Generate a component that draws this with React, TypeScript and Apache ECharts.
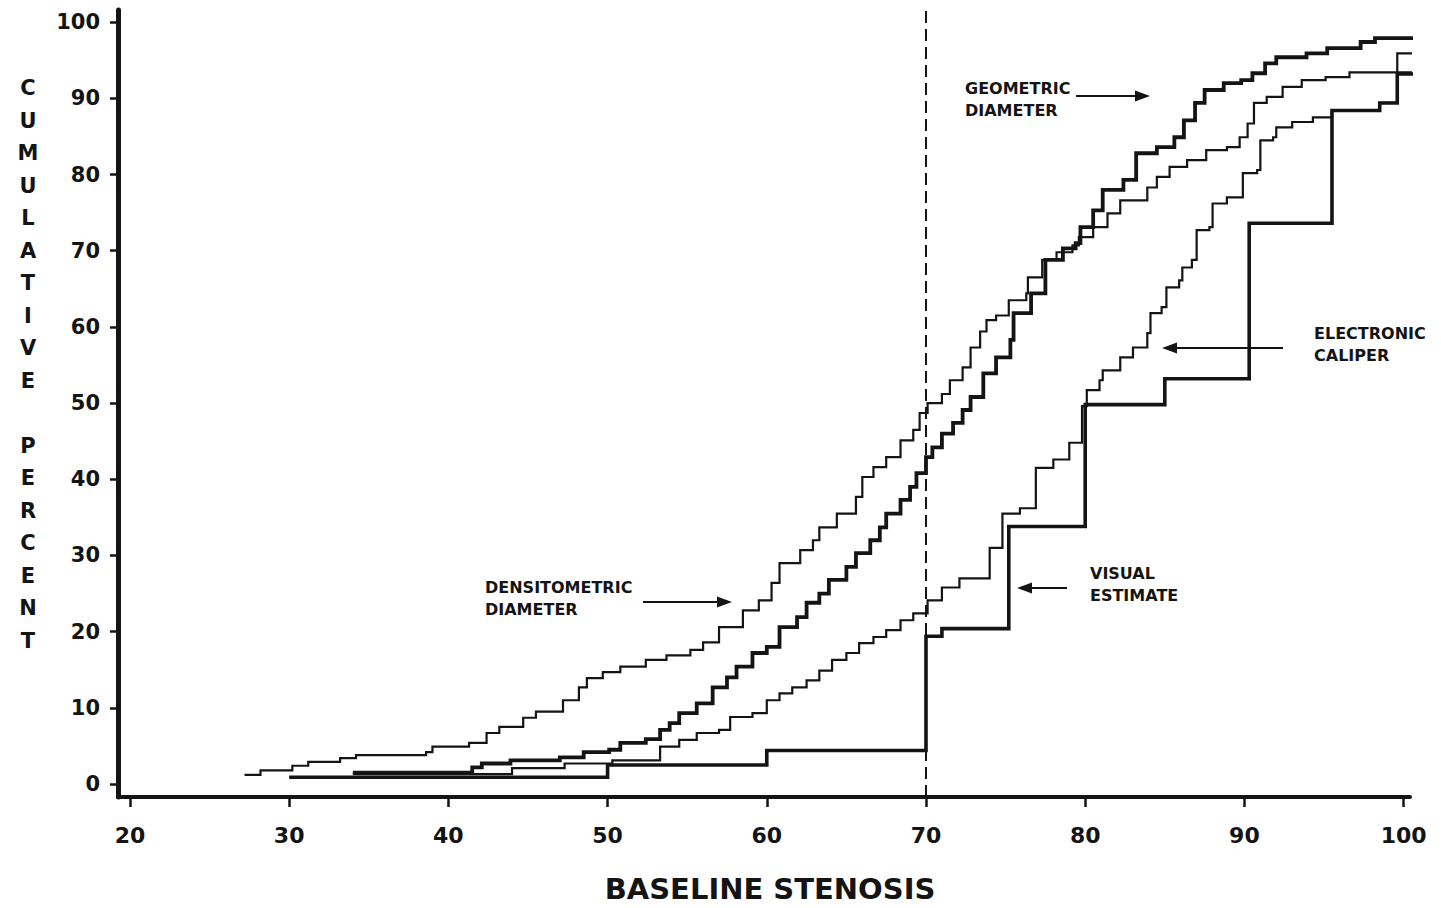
import React, { useEffect, useRef } from "react";
import * as echarts from "echarts";

const xTicks = [20, 30, 40, 50, 60, 70, 80, 90, 100];
const yTicks = [0, 10, 20, 30, 40, 50, 60, 70, 80, 90, 100];
const cutoff = 70;

const geometricDiameter = [
  [34.0, 1.5], [41.5, 2.2], [42.1, 2.7], [43.9, 3.1], [47.0, 3.5], [48.5, 4.2],
  [50.1, 4.5], [50.8, 5.4], [52.4, 5.9], [53.3, 7.1], [53.9, 8.0], [54.5, 9.3],
  [55.6, 10.6], [56.6, 12.7], [57.5, 14.0], [58.1, 15.4], [59.1, 17.2], [60.0, 18.0],
  [60.8, 20.6], [61.9, 21.9], [62.5, 23.8], [63.3, 25.0], [63.9, 26.8], [65.0, 28.5],
  [65.6, 30.3], [66.5, 32.0], [67.1, 33.7], [67.5, 35.5], [68.4, 37.3], [69.0, 39.0],
  [69.4, 40.8], [70.0, 42.9], [70.4, 44.2], [71.0, 46.0], [71.7, 47.4], [72.3, 49.1],
  [72.8, 50.8], [73.6, 53.9], [74.4, 56.0], [75.3, 58.3], [75.5, 61.8], [76.6, 64.4],
  [77.5, 68.8], [78.6, 70.3], [79.4, 71.0], [79.7, 73.1], [80.5, 75.3], [81.1, 78.0],
  [82.4, 79.3], [83.2, 82.8], [84.5, 83.6], [85.6, 84.9], [86.2, 87.1], [86.9, 89.4],
  [87.5, 91.1], [88.7, 92.0], [89.8, 92.4], [90.5, 93.3], [91.3, 94.6], [92.0, 95.4],
  [93.9, 95.9], [95.2, 96.6], [97.3, 97.4], [98.2, 97.9], [100.8, 99.4],
];

const densitometricDiameter = [
  [27.2, 1.2], [28.2, 1.8], [30.2, 2.4], [31.2, 2.9], [33.2, 3.4], [34.2, 3.8],
  [38.6, 4.2], [39.0, 4.9], [41.3, 5.4], [42.4, 6.7], [43.2, 7.5], [44.7, 8.7],
  [45.5, 9.5], [47.2, 11.0], [48.2, 12.7], [48.7, 13.9], [49.7, 14.7], [50.8, 15.4],
  [52.4, 16.3], [53.7, 16.9], [55.2, 17.6], [56.0, 18.6], [57.0, 20.6], [58.5, 22.8],
  [59.5, 24.1], [60.3, 26.4], [60.8, 29.0], [62.1, 30.7], [62.9, 32.0], [63.3, 33.7],
  [64.4, 35.5], [65.6, 37.7], [66.0, 40.3], [66.7, 41.6], [67.5, 42.9], [68.4, 45.1],
  [69.2, 46.5], [69.6, 48.7], [70.1, 50.0], [71.0, 51.2], [71.5, 53.0], [72.3, 54.7],
  [72.8, 57.3], [73.4, 59.4], [73.8, 60.9], [74.4, 61.5], [75.2, 63.5], [76.3, 64.4],
  [76.4, 66.5], [77.3, 68.8], [78.2, 69.8], [79.2, 70.7], [79.6, 71.8], [80.5, 73.1],
  [81.4, 74.9], [82.2, 76.6], [83.9, 78.3], [84.5, 79.7], [85.3, 81.0], [86.4, 81.9],
  [87.6, 83.2], [88.9, 83.6], [89.7, 84.9], [90.2, 86.7], [90.6, 89.4], [91.4, 90.2],
  [92.4, 91.5], [93.6, 92.4], [95.1, 92.8], [96.6, 93.4], [99.6, 95.9], [100.8, 99.4],
];

const electronicCaliper = [
  [34.0, 1.3], [44.0, 2.1], [47.3, 2.7], [50.3, 3.1], [53.3, 4.9], [54.5, 5.8],
  [55.6, 6.7], [57.0, 7.1], [57.7, 8.8], [59.1, 9.3], [60.0, 11.0], [60.8, 11.9],
  [61.6, 12.7], [62.5, 13.6], [63.3, 14.9], [64.1, 16.3], [65.0, 17.2], [65.8, 18.5],
  [66.7, 19.3], [67.5, 20.2], [68.4, 21.5], [69.2, 22.4], [70.1, 24.1], [71.0, 25.8],
  [72.1, 27.0], [74.0, 31.0], [74.8, 35.5], [75.9, 36.2], [76.9, 41.5], [78.0, 42.6],
  [79.0, 44.8], [79.8, 49.6], [80.1, 51.7], [80.9, 53.0], [81.1, 54.3], [82.2, 56.0],
  [83.0, 57.3], [83.9, 59.2], [84.1, 61.8], [84.8, 62.6], [85.1, 65.2], [85.9, 66.1],
  [86.1, 67.8], [86.7, 68.8], [87.0, 72.7], [87.8, 73.1], [88.0, 76.2], [88.9, 77.0],
  [89.9, 80.2], [90.8, 80.6], [91.0, 84.5], [91.8, 84.9], [92.0, 86.2], [93.0, 86.9],
  [94.3, 87.5], [95.5, 88.4], [98.5, 89.4], [99.6, 93.4], [100.8, 99.4],
];

const visualEstimate = [
  [30.0, 0.9], [50.0, 2.5], [60.0, 4.4], [70.0, 19.4], [71.0, 20.4], [75.2, 33.8],
  [80.0, 49.8], [85.0, 53.2], [90.3, 73.6], [95.5, 88.4], [98.5, 89.4], [99.6, 93.2],
  [100.8, 99.4],
];

const INK = "#141414";
const FONT = "DejaVu Sans";

function stepSeries(name: string, data: number[][], width: number, extra: any = {}) {
  return {
    name,
    type: "line",
    step: "end",
    data,
    symbol: "none",
    clip: false,
    silent: true,
    lineStyle: { color: INK, width, join: "miter" },
    ...extra,
  };
}

function arrow(x1: number, x2: number, y: number) {
  const dir = x2 > x1 ? 1 : -1;
  const baseX = x2 - dir * 15;
  return [
    { type: "line", shape: { x1, y1: y, x2: baseX, y2: y }, style: { stroke: INK, lineWidth: 2.2 } },
    {
      type: "polygon",
      shape: { points: [[x2, y], [baseX, y - 5.5], [baseX, y + 5.5]] },
      style: { fill: INK },
    },
  ];
}

function label(text: string, x: number, y: number) {
  return {
    type: "text",
    x,
    y,
    style: {
      text,
      fill: INK,
      fontFamily: FONT,
      fontWeight: "bold",
      fontSize: 16,
      lineHeight: 22,
      align: "left",
      verticalAlign: "top",
    },
  };
}

export default function App() {
  const ref = useRef<HTMLDivElement>(null);
  useEffect(() => {
    if (!ref.current) return;
    const chart = echarts.init(ref.current, null, { renderer: "svg" });
    chart.setOption({
      animation: false,
      backgroundColor: "#ffffff",
      grid: { left: 118, right: 31, top: 10, bottom: 111 },
      xAxis: {
        type: "value",
        min: 19.25,
        max: 100.4,
        axisLine: { show: true, onZero: false, lineStyle: { color: INK, width: 4 } },
        axisTick: { show: true, length: 10, customValues: xTicks, lineStyle: { color: INK, width: 2.5 } },
        axisLabel: {
          customValues: xTicks,
          margin: 27,
          color: INK,
          fontFamily: FONT,
          fontWeight: "bold",
          fontSize: 22,
        },
        splitLine: { show: false },
      },
      yAxis: {
        type: "value",
        min: -1.7,
        max: 101.6,
        axisLine: { show: true, onZero: false, lineStyle: { color: INK, width: 5 } },
        axisTick: { show: true, length: 8, customValues: yTicks, lineStyle: { color: INK, width: 2.5 } },
        axisLabel: {
          customValues: yTicks,
          margin: 18,
          color: INK,
          fontFamily: FONT,
          fontWeight: "bold",
          fontSize: 21,
        },
        splitLine: { show: false },
      },
      series: [
        stepSeries("Densitometric diameter", densitometricDiameter, 2.2),
        stepSeries("Electronic caliper", electronicCaliper, 2.2),
        stepSeries("Geometric diameter", geometricDiameter, 3.8),
        stepSeries("Visual estimate", visualEstimate, 3.6, {
          markLine: {
            silent: true,
            symbol: ["none", "none"],
            label: { show: false },
            lineStyle: { color: INK, width: 2, type: [12, 6] },
            data: [{ xAxis: cutoff }],
          },
        }),
      ],
      graphic: {
        elements: [
          label("GEOMETRIC\nDIAMETER", 965, 77),
          ...arrow(1076, 1150, 96),
          label("DENSITOMETRIC\nDIAMETER", 485, 576),
          ...arrow(643, 732, 602),
          label("ELECTRONIC\nCALIPER", 1314, 322),
          ...arrow(1283, 1162, 348),
          label("VISUAL\nESTIMATE", 1090, 562),
          ...arrow(1067, 1017, 588),
          {
            type: "text",
            x: 28,
            y: 72,
            style: {
              text: "CUMULATIVE PERCENT".split("").join("\n"),
              fill: INK,
              fontFamily: FONT,
              fontWeight: "bold",
              fontSize: 21,
              lineHeight: 32.5,
              align: "center",
              verticalAlign: "top",
            },
          },
          {
            type: "text",
            x: 770,
            y: 889,
            style: {
              text: "BASELINE STENOSIS",
              fill: INK,
              fontFamily: FONT,
              fontWeight: "bold",
              fontSize: 29,
              align: "center",
              verticalAlign: "middle",
            },
          },
        ],
      },
    });
    return () => chart.dispose();
  }, []);
  return (
    <div
      ref={ref}
      style={{ position: "absolute", left: 0, top: 0, width: 1441, height: 908 }}
    />
  );
}
